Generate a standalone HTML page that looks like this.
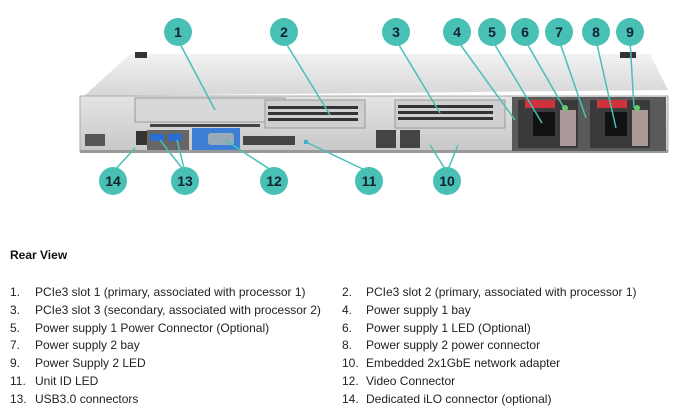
<!DOCTYPE html>
<html><head><meta charset="utf-8"><style>
body{margin:0;background:#fff;width:676px;height:414px;overflow:hidden}
svg{display:block}
text{font-family:"Liberation Sans",sans-serif}
</style></head><body>
<svg width="676" height="414" viewBox="0 0 676 414">
<defs>
<linearGradient id="top" x1="0" y1="0" x2="0" y2="1"><stop offset="0" stop-color="#f2f2f2"/><stop offset="1" stop-color="#d6d6d6"/></linearGradient>
<linearGradient id="face" x1="0" y1="0" x2="0" y2="1"><stop offset="0" stop-color="#e4e4e4"/><stop offset="1" stop-color="#c8c8c8"/></linearGradient>
</defs>
<!-- server top -->
<polygon points="130,54 650,54 668,90 84,96" fill="url(#top)"/>
<rect x="135" y="52" width="12" height="6" fill="#333"/>
<rect x="620" y="52" width="16" height="6" fill="#333"/>
<!-- front face -->
<rect x="80" y="96" width="588" height="55" fill="url(#face)" stroke="#aaa"/>
<rect x="80" y="150" width="588" height="3" fill="#999"/>
<!-- slot 1 -->
<rect x="135" y="98" width="150" height="24" fill="#d8d8d8" stroke="#999"/>
<!-- slot 2 -->
<rect x="265" y="100" width="100" height="28" fill="#cfcfcf" stroke="#999"/>
<g fill="#333"><rect x="268" y="106" width="90" height="3"/><rect x="268" y="112" width="90" height="3"/><rect x="268" y="118" width="90" height="3"/></g>
<!-- slot 3 -->
<rect x="395" y="100" width="110" height="28" fill="#cfcfcf" stroke="#999"/>
<g fill="#333"><rect x="398" y="105" width="95" height="3"/><rect x="398" y="111" width="95" height="3"/><rect x="398" y="117" width="95" height="3"/></g>
<!-- vents -->
<rect x="150" y="124" width="110" height="3" fill="#444"/>
<rect x="85" y="134" width="20" height="12" fill="#555"/>
<rect x="243" y="136" width="52" height="9" fill="#444"/>
<!-- iLO -->
<rect x="136" y="131" width="16" height="14" fill="#333"/>
<!-- USB -->
<rect x="147" y="130" width="42" height="20" fill="#666"/>
<rect x="150" y="134" width="14" height="7" fill="#2a6fd0"/>
<rect x="168" y="134" width="14" height="7" fill="#2a6fd0"/>
<!-- VGA -->
<rect x="192" y="128" width="48" height="22" fill="#3d7fd6"/>
<rect x="208" y="133" width="26" height="12" rx="3" fill="#9ab"/>
<!-- UID -->
<rect x="304" y="140" width="4" height="4" fill="#4ac"/>
<!-- NIC -->
<rect x="376" y="130" width="20" height="18" fill="#444"/>
<rect x="400" y="130" width="20" height="18" fill="#444"/>
<!-- power supplies -->
<rect x="512" y="97" width="154" height="54" fill="#5a5a5a"/>
<rect x="518" y="100" width="60" height="48" fill="#3a3a3a"/>
<rect x="590" y="100" width="60" height="48" fill="#3a3a3a"/>
<rect x="525" y="100" width="30" height="8" fill="#d0313d"/>
<rect x="597" y="100" width="30" height="8" fill="#d0313d"/>
<rect x="533" y="112" width="22" height="24" fill="#111"/>
<rect x="605" y="112" width="22" height="24" fill="#111"/>
<rect x="560" y="110" width="16" height="36" fill="#a99"/>
<rect x="632" y="110" width="16" height="36" fill="#a99"/>
<circle cx="565" cy="108" r="3" fill="#6c6"/>
<circle cx="637" cy="108" r="3" fill="#6c6"/>
<!-- leader lines -->
<g stroke="#48c0b4" stroke-width="1.5" fill="none">
<line x1="178" y1="40" x2="215" y2="110"/>
<line x1="284" y1="40" x2="330" y2="115"/>
<line x1="396" y1="40" x2="440" y2="113"/>
<line x1="457" y1="40" x2="515" y2="120"/>
<line x1="492" y1="40" x2="542" y2="123"/>
<line x1="525" y1="40" x2="564" y2="108"/>
<line x1="559" y1="40" x2="586" y2="118"/>
<line x1="596" y1="40" x2="616" y2="128"/>
<line x1="630" y1="40" x2="634" y2="108"/>
<line x1="113" y1="172" x2="135" y2="148"/>
<line x1="185" y1="172" x2="160" y2="140"/>
<line x1="185" y1="172" x2="177" y2="140"/>
<line x1="274" y1="172" x2="225" y2="140"/>
<line x1="369" y1="172" x2="306" y2="142"/>
<line x1="447" y1="172" x2="430" y2="145"/>
<line x1="447" y1="172" x2="458" y2="145"/>
</g>
<g fill="#48c0b4">
<circle cx="178" cy="32" r="14"/><circle cx="284" cy="32" r="14"/><circle cx="396" cy="32" r="14"/>
<circle cx="457" cy="32" r="14"/><circle cx="492" cy="32" r="14"/><circle cx="525" cy="32" r="14"/>
<circle cx="559" cy="32" r="14"/><circle cx="596" cy="32" r="14"/><circle cx="630" cy="32" r="14"/>
<circle cx="113" cy="181" r="14"/><circle cx="185" cy="181" r="14"/><circle cx="274" cy="181" r="14"/>
<circle cx="369" cy="181" r="14"/><circle cx="447" cy="181" r="14"/>
</g>
<g font-size="14" font-weight="bold" fill="#123" text-anchor="middle">
<text x="178" y="37">1</text><text x="284" y="37">2</text><text x="396" y="37">3</text>
<text x="457" y="37">4</text><text x="492" y="37">5</text><text x="525" y="37">6</text>
<text x="559" y="37">7</text><text x="596" y="37">8</text><text x="630" y="37">9</text>
<text x="113" y="186">14</text><text x="185" y="186">13</text><text x="274" y="186">12</text>
<text x="369" y="186">11</text><text x="447" y="186">10</text>
</g>
<text x="10" y="259" font-size="12" font-weight="bold" fill="#111">Rear View</text>
<g font-size="12" fill="#222">
<text x="10" y="296">1.</text><text x="35" y="296">PCIe3 slot 1 (primary, associated with processor 1)</text>
<text x="10" y="314">3.</text><text x="35" y="314">PCIe3 slot 3 (secondary, associated with processor 2)</text>
<text x="10" y="332">5.</text><text x="35" y="332">Power supply 1 Power Connector (Optional)</text>
<text x="10" y="349">7.</text><text x="35" y="349">Power supply 2 bay</text>
<text x="10" y="367">9.</text><text x="35" y="367">Power Supply 2 LED</text>
<text x="10" y="385">11.</text><text x="35" y="385">Unit ID LED</text>
<text x="10" y="403">13.</text><text x="35" y="403">USB3.0 connectors</text>
<text x="342" y="296">2.</text><text x="366" y="296">PCIe3 slot 2 (primary, associated with processor 1)</text>
<text x="342" y="314">4.</text><text x="366" y="314">Power supply 1 bay</text>
<text x="342" y="332">6.</text><text x="366" y="332">Power supply 1 LED (Optional)</text>
<text x="342" y="349">8.</text><text x="366" y="349">Power supply 2 power connector</text>
<text x="342" y="367">10.</text><text x="366" y="367">Embedded 2x1GbE network adapter</text>
<text x="342" y="385">12.</text><text x="366" y="385">Video Connector</text>
<text x="342" y="403">14.</text><text x="366" y="403">Dedicated iLO connector (optional)</text>
</g>
</svg>
</body></html>
